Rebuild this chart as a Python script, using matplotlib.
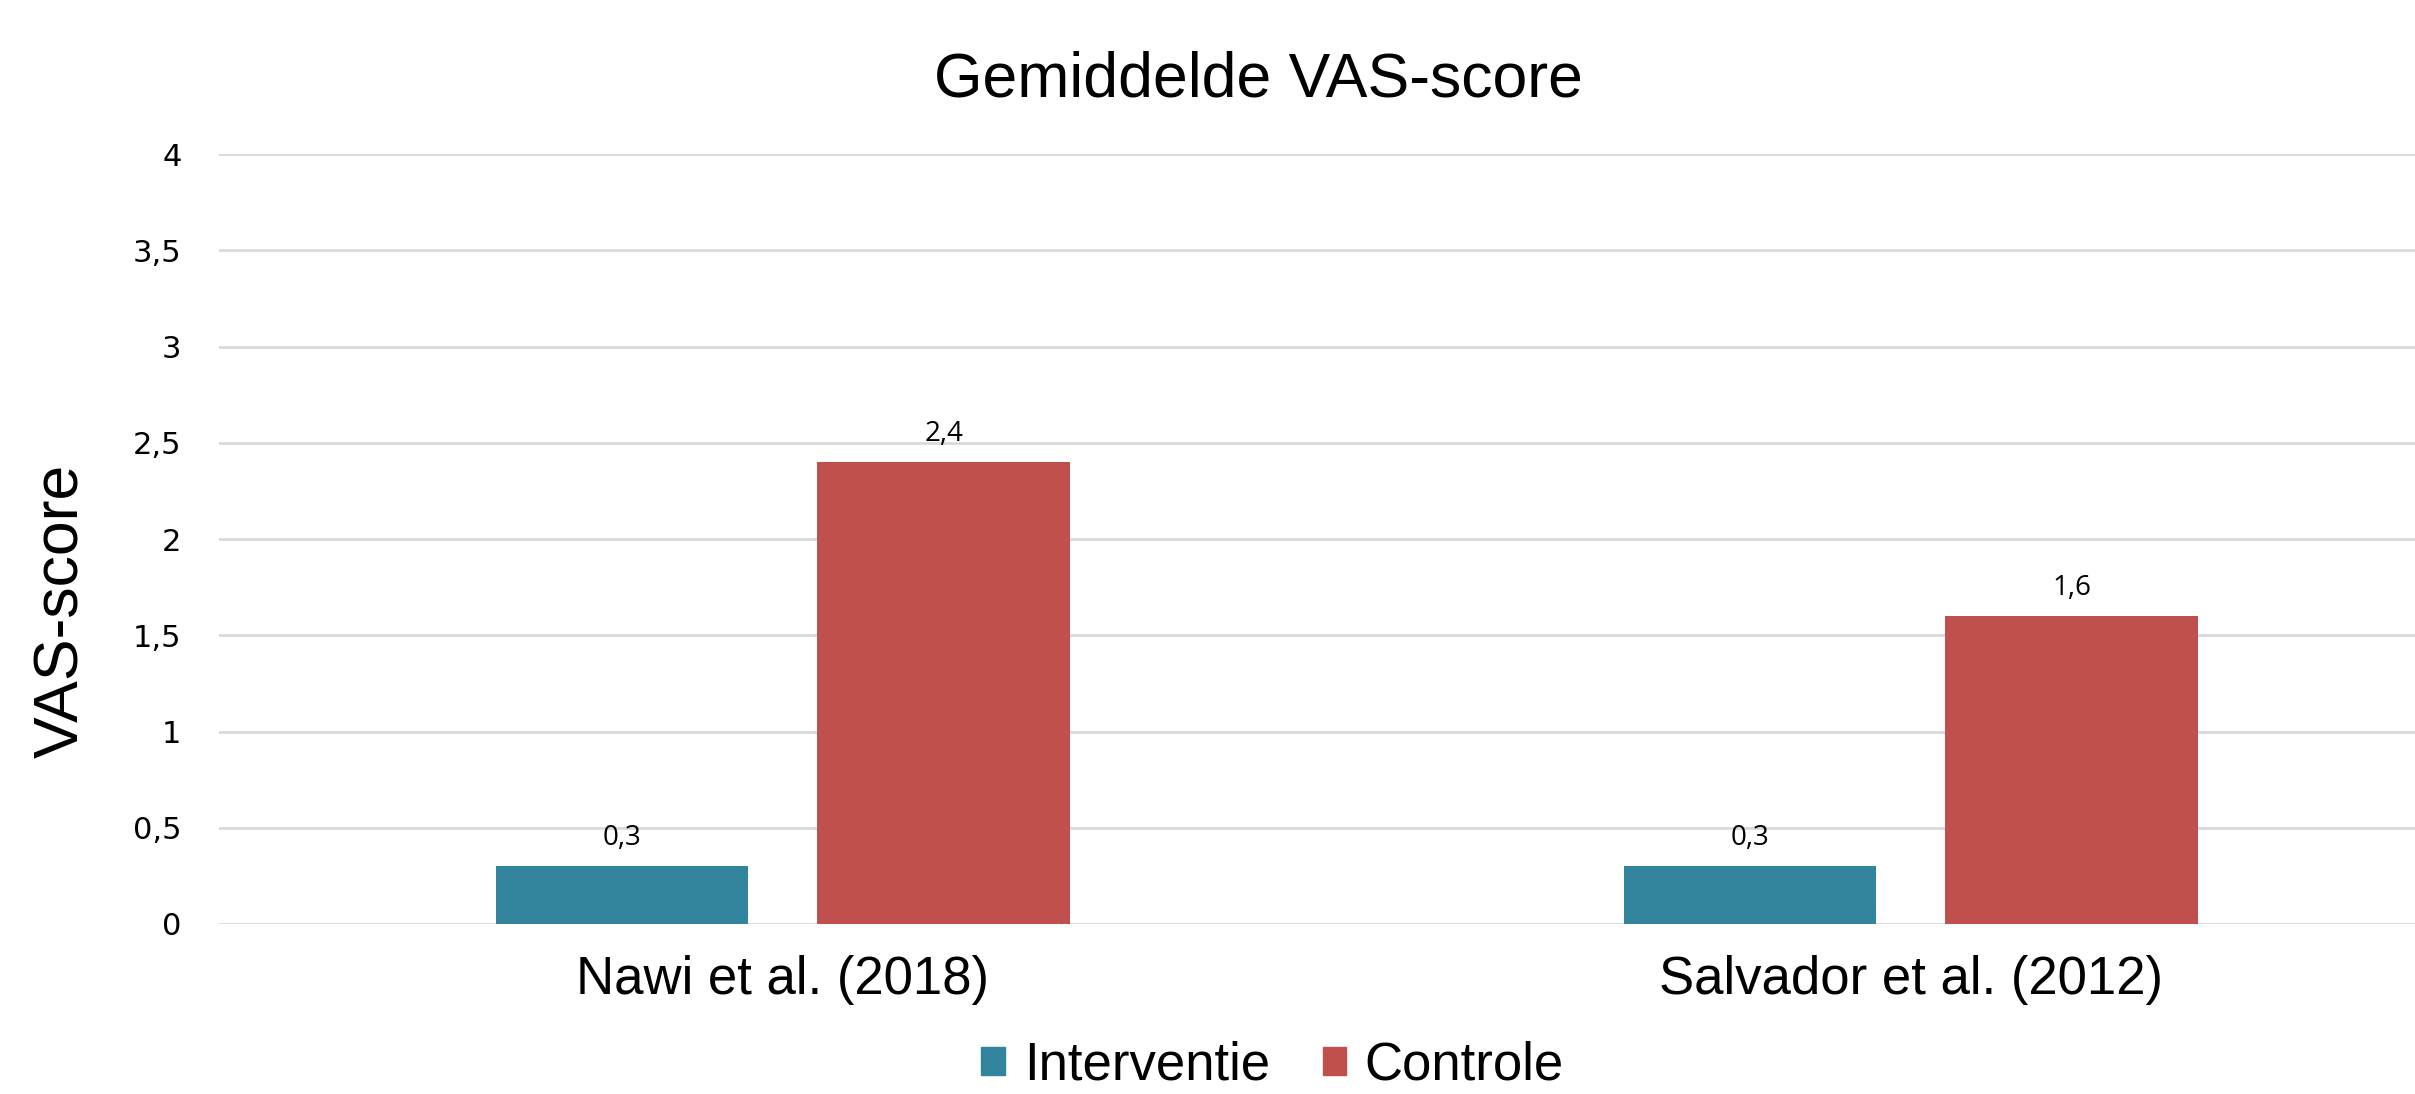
#!/usr/bin/env python3
"""Grouped bar chart: mean VAS score per study, intervention vs control."""

import matplotlib.pyplot as plt
import matplotlib.patches as mpatches
import numpy as np

studies = ["Nawi et al. (2018)", "Salvador et al. (2012)"]
interventie = [0.3, 0.3]
controle = [2.4, 1.6]
series_names = ["Interventie", "Controle"]
yticks = [0, 0.5, 1, 1.5, 2, 2.5, 3, 3.5, 4]

COLORS = {"Interventie": "#31849b", "Controle": "#c0504d"}
GRID = "#d9d9d9"

def nl(v):
    return f"{v:g}".replace(".", ",")

fig = plt.figure(figsize=(24.15, 10.94), dpi=100)
ax = fig.add_axes([0.0907, 0.1554, 0.9093, 0.7038])

x = np.arange(len(studies))
w = 0.224
off = 0.1426
bars_i = ax.bar(x - off, interventie, w, color=COLORS["Interventie"], zorder=3)
bars_c = ax.bar(x + off, controle, w, color=COLORS["Controle"], zorder=3)

for bars, vals in ((bars_i, interventie), (bars_c, controle)):
    for b, v in zip(bars, vals):
        ax.annotate(nl(v), (b.get_x() + b.get_width() / 2, v),
                    xytext=(0, 10), textcoords="offset points",
                    ha="center", va="bottom", fontsize=20,
                    family="Open Sans", color="#000000")

ax.set_ylim(0, 4)
ax.set_xlim(-0.5, 1.447)
ax.set_yticks(yticks)
ax.set_yticklabels([nl(t) for t in yticks], family="DejaVu Sans", fontsize=22)
ax.set_xticks(x)
ax.set_xticklabels(studies, family="Liberation Sans", fontsize=38)
ax.tick_params(axis="both", length=0)
ax.tick_params(axis="y", pad=27)
ax.tick_params(axis="x", pad=22)
ax.grid(axis="y", color=GRID, linewidth=2, zorder=0)
for s in ax.spines.values():
    s.set_visible(False)

fig.text(0.0257, 0.442, "VAS-score", rotation=90, ha="center", va="center",
         family="Liberation Sans", fontsize=45)
fig.text(0.521, 0.927, "Gemiddelde VAS-score", ha="center", va="center",
         family="Liberation Sans", fontsize=45)

handles = [mpatches.Patch(color=COLORS[n], label=n) for n in series_names]
fig.legend(handles=handles, loc="center", bbox_to_anchor=(0.527, 0.026),
           ncol=2, frameon=False, prop={"family": "Liberation Sans", "size": 38},
           handlelength=0.45, handleheight=0.45, handletextpad=0.35,
           columnspacing=1.0)

fig.savefig("out.png", dpi=100)
